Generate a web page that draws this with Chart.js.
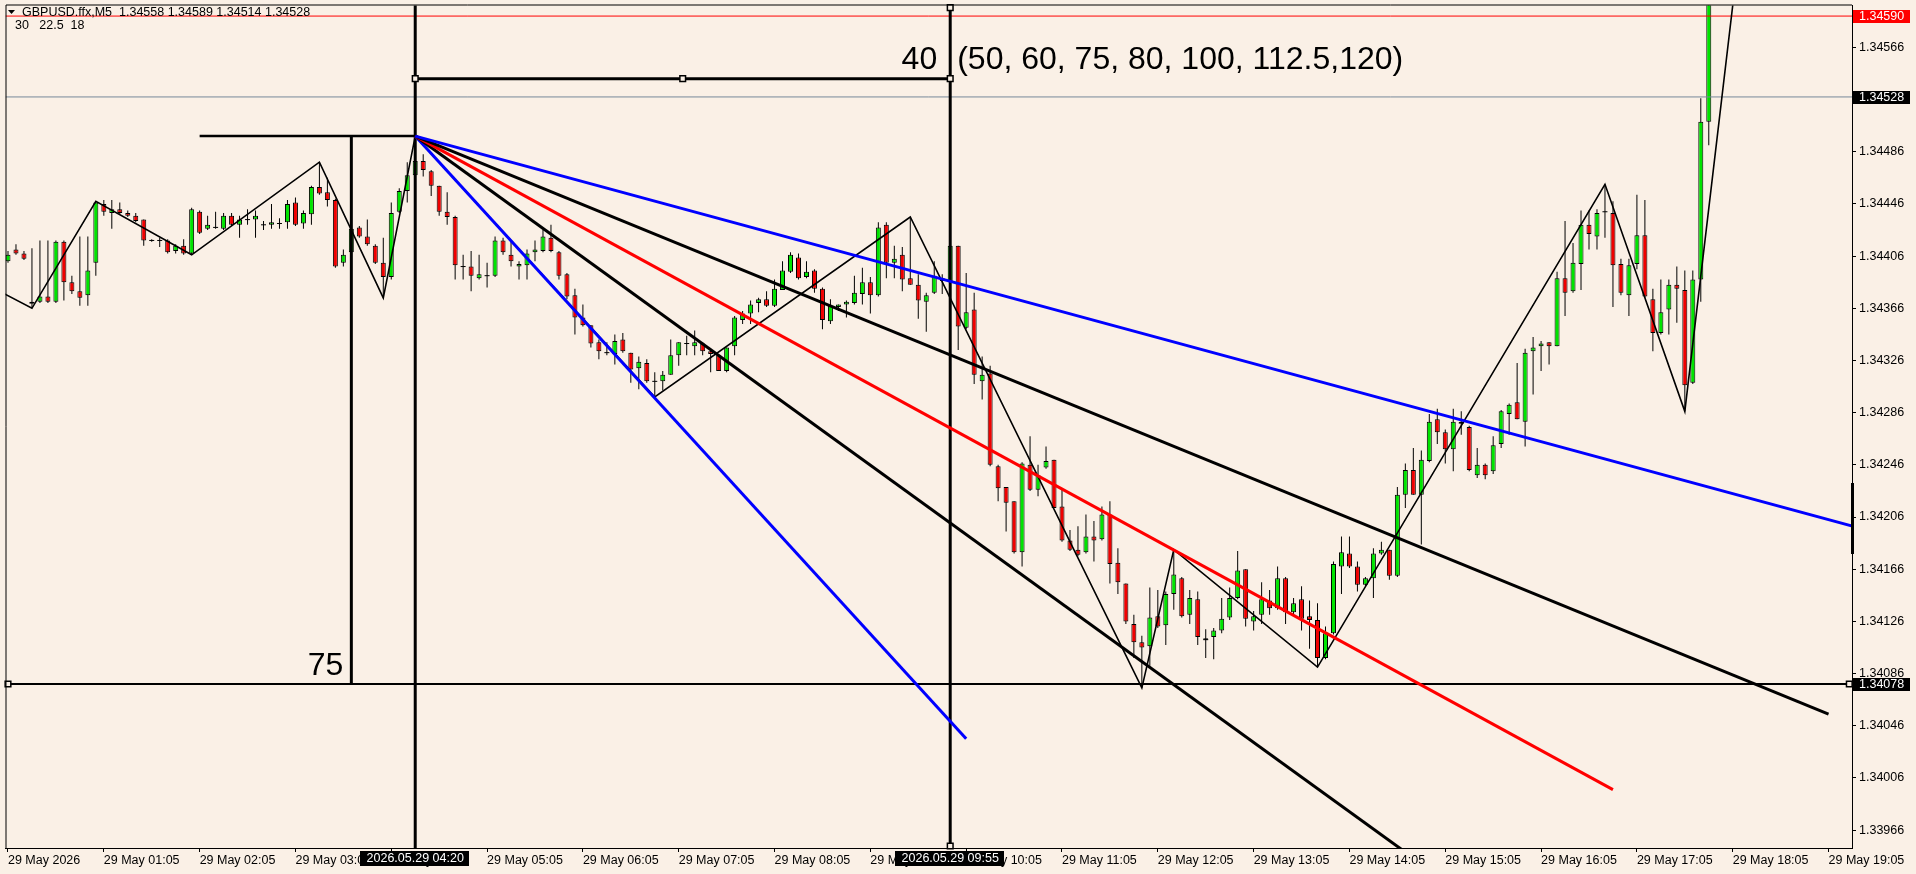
<!DOCTYPE html>
<html>
<head>
<meta charset="utf-8">
<title>GBPUSD.ffx,M5</title>
<script src="https://cdn.jsdelivr.net/npm/chart.js@4"></script>
<style>
  html, body { margin: 0; padding: 0; background: #FAF0E6; overflow: hidden; }
</style>
</head>
<body>
<canvas id="chart" width="1916" height="874"></canvas>
<script>
// GBPUSD M5 bars, bar 0 = 29 May 00:05
const open = [
  1.34402,1.34411,1.34408,1.34371,1.34371,1.34375,1.34371,1.34417,1.34386,1.34379,
  1.34376,1.34401,1.34446,1.34439,1.34442,1.34439,1.34437,1.34434,1.34418,1.34418,
  1.34418,1.34410,1.34414,1.34408,1.34440,1.34427,1.34428,1.34427,1.34437,1.34430,
  1.34434,1.34434,1.34430,1.34430,1.34431,1.34432,1.34447,1.34431,1.34438,1.34459,
  1.34455,1.34449,1.34401,1.34409,1.34428,1.34421,1.34414,1.34401,1.34390,1.34440,
  1.34456,1.34468,1.34479,1.34471,1.34460,1.34440,1.34436,1.34398,1.34398,1.34389,
  1.34391,1.34391,1.34418,1.34407,1.34398,1.34399,1.34409,1.34410,1.34420,1.34409,
  1.34392,1.34376,1.34359,1.34353,1.34340,1.34332,1.34331,1.34342,1.34332,1.34320,
  1.34324,1.34310,1.34310,1.34315,1.34330,1.34339,1.34337,1.34339,1.34333,1.34330,
  1.34318,1.34337,1.34357,1.34362,1.34370,1.34373,1.34368,1.34380,1.34394,1.34405,
  1.34390,1.34395,1.34381,1.34356,1.34367,1.34369,1.34370,1.34377,1.34386,1.34376,
  1.34430,1.34401,1.34407,1.34389,1.34384,1.34371,1.34378,1.34389,1.34387,1.34414,
  1.34351,1.34365,1.34310,1.34316,1.34245,1.34229,1.34218,1.34179,1.34246,1.34227,
  1.34244,1.34250,1.34214,1.34188,1.34181,1.34179,1.34191,1.34189,1.34208,1.34171,
  1.34155,1.34124,1.34110,1.34107,1.34130,1.34123,1.34147,1.34159,1.34131,1.34143,
  1.34113,1.34114,1.34119,1.34129,1.34144,1.34166,1.34126,1.34131,1.34142,1.34136,
  1.34159,1.34133,1.34143,1.34130,1.34127,1.34098,1.34117,1.34168,1.34178,1.34168,
  1.34154,1.34159,1.34178,1.34181,1.34161,1.34223,1.34242,1.34223,1.34249,1.34281,
  1.34271,1.34258,1.34279,1.34275,1.34238,1.34246,1.34241,1.34262,1.34285,1.34294,
  1.34279,1.34333,1.34337,1.34340,1.34337,1.34389,1.34379,1.34400,1.34430,1.34421,
  1.34440,1.34439,1.34400,1.34376,1.34400,1.34422,1.34373,1.34347,1.34365,1.34384,
  1.34380,1.34309,1.34388,1.34509
];
const high = [
  1.34410,1.34415,1.34410,1.34412,1.34418,1.34418,1.34418,1.34418,1.34391,1.34421,
  1.34421,1.34448,1.34449,1.34449,1.34447,1.34441,1.34439,1.34434,1.34419,1.34420,
  1.34419,1.34415,1.34419,1.34443,1.34441,1.34437,1.34440,1.34439,1.34439,1.34437,
  1.34442,1.34441,1.34433,1.34446,1.34435,1.34449,1.34451,1.34441,1.34460,1.34478,
  1.34466,1.34450,1.34411,1.34428,1.34429,1.34434,1.34415,1.34420,1.34447,1.34458,
  1.34478,1.34498,1.34484,1.34472,1.34460,1.34455,1.34437,1.34407,1.34410,1.34407,
  1.34401,1.34421,1.34420,1.34418,1.34402,1.34411,1.34418,1.34426,1.34430,1.34410,
  1.34393,1.34381,1.34369,1.34353,1.34342,1.34340,1.34346,1.34347,1.34332,1.34329,
  1.34327,1.34317,1.34318,1.34342,1.34340,1.34345,1.34349,1.34340,1.34335,1.34331,
  1.34336,1.34360,1.34364,1.34372,1.34374,1.34379,1.34388,1.34402,1.34409,1.34408,
  1.34402,1.34396,1.34382,1.34373,1.34369,1.34372,1.34391,1.34397,1.34390,1.34432,
  1.34432,1.34414,1.34413,1.34436,1.34392,1.34378,1.34402,1.34392,1.34415,1.34414,
  1.34393,1.34378,1.34329,1.34322,1.34246,1.34229,1.34218,1.34248,1.34268,1.34246,
  1.34260,1.34250,1.34227,1.34196,1.34199,1.34208,1.34203,1.34214,1.34218,1.34182,
  1.34155,1.34131,1.34115,1.34152,1.34150,1.34149,1.34181,1.34160,1.34150,1.34149,
  1.34120,1.34121,1.34144,1.34152,1.34180,1.34166,1.34134,1.34156,1.34150,1.34168,
  1.34160,1.34144,1.34153,1.34142,1.34140,1.34122,1.34172,1.34191,1.34191,1.34172,
  1.34160,1.34182,1.34187,1.34181,1.34229,1.34247,1.34259,1.34257,1.34285,1.34289,
  1.34273,1.34289,1.34287,1.34276,1.34259,1.34247,1.34268,1.34288,1.34293,1.34324,
  1.34335,1.34344,1.34341,1.34340,1.34394,1.34433,1.34416,1.34441,1.34441,1.34442,
  1.34461,1.34448,1.34404,1.34404,1.34453,1.34449,1.34381,1.34388,1.34388,1.34398,
  1.34395,1.34395,1.34527,1.34650
];
const low = [
  1.34401,1.34407,1.34403,1.34366,1.34370,1.34370,1.34370,1.34372,1.34377,1.34368,
  1.34368,1.34391,1.34437,1.34427,1.34438,1.34436,1.34432,1.34414,1.34417,1.34413,
  1.34408,1.34408,1.34407,1.34407,1.34423,1.34426,1.34427,1.34426,1.34429,1.34420,
  1.34430,1.34420,1.34426,1.34427,1.34427,1.34427,1.34429,1.34427,1.34430,1.34453,
  1.34444,1.34397,1.34398,1.34408,1.34420,1.34414,1.34400,1.34374,1.34388,1.34439,
  1.34447,1.34467,1.34467,1.34452,1.34437,1.34430,1.34388,1.34388,1.34379,1.34388,
  1.34382,1.34390,1.34407,1.34398,1.34388,1.34388,1.34402,1.34409,1.34409,1.34388,
  1.34373,1.34346,1.34352,1.34336,1.34327,1.34330,1.34323,1.34332,1.34309,1.34304,
  1.34309,1.34298,1.34303,1.34315,1.34322,1.34330,1.34330,1.34330,1.34317,1.34318,
  1.34317,1.34330,1.34354,1.34354,1.34363,1.34367,1.34367,1.34380,1.34393,1.34388,
  1.34389,1.34378,1.34350,1.34354,1.34364,1.34359,1.34369,1.34369,1.34362,1.34375,
  1.34389,1.34389,1.34379,1.34384,1.34358,1.34348,1.34377,1.34377,1.34385,1.34334,
  1.34350,1.34308,1.34296,1.34245,1.34218,1.34195,1.34178,1.34168,1.34226,1.34222,
  1.34243,1.34213,1.34187,1.34180,1.34176,1.34178,1.34172,1.34188,1.34155,1.34147,
  1.34124,1.34098,1.34075,1.34092,1.34121,1.34108,1.34135,1.34129,1.34124,1.34108,
  1.34098,1.34097,1.34117,1.34127,1.34143,1.34122,1.34119,1.34124,1.34131,1.34135,
  1.34124,1.34131,1.34119,1.34105,1.34091,1.34097,1.34116,1.34147,1.34167,1.34149,
  1.34153,1.34144,1.34177,1.34158,1.34160,1.34213,1.34223,1.34185,1.34248,1.34262,
  1.34247,1.34241,1.34269,1.34241,1.34236,1.34235,1.34239,1.34259,1.34269,1.34281,
  1.34260,1.34300,1.34318,1.34323,1.34337,1.34360,1.34378,1.34380,1.34411,1.34411,
  1.34420,1.34367,1.34376,1.34360,1.34396,1.34374,1.34333,1.34346,1.34346,1.34355,
  1.34287,1.34308,1.34371,1.34491
];
const close = [
  1.34407,1.34408,1.34404,1.34370,1.34375,1.34371,1.34417,1.34386,1.34379,1.34374,
  1.34395,1.34447,1.34440,1.34442,1.34439,1.34437,1.34433,1.34418,1.34418,1.34418,
  1.34409,1.34414,1.34408,1.34442,1.34424,1.34430,1.34428,1.34437,1.34430,1.34434,
  1.34434,1.34437,1.34430,1.34432,1.34431,1.34446,1.34430,1.34439,1.34459,1.34454,
  1.34449,1.34398,1.34407,1.34427,1.34421,1.34415,1.34401,1.34390,1.34439,1.34456,
  1.34468,1.34479,1.34472,1.34460,1.34440,1.34436,1.34399,1.34398,1.34391,1.34392,
  1.34391,1.34418,1.34409,1.34402,1.34400,1.34408,1.34411,1.34421,1.34410,1.34391,
  1.34375,1.34359,1.34353,1.34339,1.34333,1.34332,1.34341,1.34333,1.34319,1.34325,
  1.34310,1.34310,1.34315,1.34330,1.34340,1.34339,1.34340,1.34333,1.34331,1.34318,
  1.34336,1.34359,1.34362,1.34369,1.34373,1.34368,1.34381,1.34395,1.34407,1.34389,
  1.34394,1.34381,1.34357,1.34368,1.34369,1.34371,1.34378,1.34386,1.34376,1.34428,
  1.34401,1.34404,1.34388,1.34384,1.34372,1.34376,1.34391,1.34387,1.34414,1.34352,
  1.34363,1.34315,1.34315,1.34246,1.34228,1.34217,1.34179,1.34247,1.34227,1.34238,
  1.34249,1.34213,1.34188,1.34181,1.34177,1.34191,1.34188,1.34208,1.34170,1.34156,
  1.34126,1.34110,1.34106,1.34129,1.34122,1.34147,1.34162,1.34130,1.34144,1.34114,
  1.34112,1.34119,1.34128,1.34144,1.34165,1.34128,1.34130,1.34143,1.34136,1.34159,
  1.34133,1.34140,1.34128,1.34127,1.34098,1.34117,1.34170,1.34179,1.34168,1.34154,
  1.34159,1.34178,1.34181,1.34161,1.34223,1.34242,1.34223,1.34250,1.34279,1.34271,
  1.34258,1.34279,1.34278,1.34242,1.34246,1.34238,1.34261,1.34287,1.34292,1.34281,
  1.34332,1.34336,1.34339,1.34337,1.34389,1.34378,1.34401,1.34430,1.34423,1.34439,
  1.34440,1.34399,1.34378,1.34399,1.34422,1.34375,1.34347,1.34363,1.34384,1.34381,
  1.34307,1.34388,1.34509,1.34640
];

// ZigZag(30, 22.5, 18) turning points: bar index / price
const zzIdx   = [-2, 3, 11, 23, 39, 47, 51, 81, 113, 142, 146, 164, 200, 210, 217];
const zzPrice = [1.34382, 1.34366, 1.34448, 1.34407, 1.34478, 1.34374, 1.34498, 1.34298,
                 1.34436, 1.34075, 1.34181, 1.34091, 1.34461, 1.34287, 1.34650];

// Gann fan from the 04:20 high
const fanFrom  = [51, 1.34498];
const fanEndIdx   = [231, 228, 201, 180, 120];
const fanEndPrice = [1.34199, 1.34055, 1.33997, 1.33927, 1.34036];
const fanColors   = ['#0000FF', '#000000', '#FF0000', '#000000', '#0000FF'];

// price levels
const askPrice = 1.34590;
const bidPrice = 1.34528;
const levelPrice = 1.34078;
const boxTopPrice = 1.34542;

// axes
const timeTicks = [0, 12, 24, 36, 48, 60, 72, 84, 96, 108, 120, 132, 144, 156, 168, 180, 192, 204, 216, 228];
const timeLabels = ['29 May 2026', '29 May 01:05', '29 May 02:05', '29 May 03:05', '29 May 04:05',
  '29 May 05:05', '29 May 06:05', '29 May 07:05', '29 May 08:05', '29 May 09:05', '29 May 10:05',
  '29 May 11:05', '29 May 12:05', '29 May 13:05', '29 May 14:05', '29 May 15:05', '29 May 16:05',
  '29 May 17:05', '29 May 18:05', '29 May 19:05'];
const priceTicks = [1.33966, 1.34006, 1.34046, 1.34086, 1.34126, 1.34166, 1.34206, 1.34246,
  1.34286, 1.34326, 1.34366, 1.34406, 1.34446, 1.34486, 1.34566];
const timeMarks = [[51, '2026.05.29 04:20'], [118, '2026.05.29 09:55']];

const X_MIN = -0.3125, X_MAX = 230.9375;
const Y_MIN = 1.339523, Y_MAX = 1.345981;
const BG = '#FAF0E6';
const FONT = '"Liberation Sans", Arial, sans-serif';

Chart.defaults.font.family = FONT;
Chart.defaults.color = '#000';

const bodies = [], wicks = [], dashes = [], bodyColors = [];
for (let i = 0; i < open.length; i++) {
  wicks.push({x: i, y: [low[i], high[i]]});
  bodies.push({x: i, y: [Math.min(open[i], close[i]), Math.max(open[i], close[i])]});
  bodyColors.push(close[i] >= open[i] ? '#00E400' : '#F00000');
  if (Math.abs(open[i] - close[i]) < 0.000015) dashes.push({x: i, y: close[i]});
}

function seg(points, color, width, order) {
  return {type: 'line', data: points, borderColor: color, borderWidth: width,
    pointRadius: 0, fill: false, tension: 0, order: order};
}

const lines = [];
lines.push(seg([{x: X_MIN, y: askPrice}, {x: X_MAX, y: askPrice}], '#FF0000', 1, 3));
lines.push(seg([{x: X_MIN, y: bidPrice}, {x: X_MAX, y: bidPrice}], '#778899', 1, 3));
lines.push(seg(zzIdx.map((v, k) => ({x: v, y: zzPrice[k]})), '#000000', 1.6, 2));
fanEndIdx.forEach((v, k) => {
  lines.push(seg([{x: fanFrom[0], y: fanFrom[1]}, {x: v, y: fanEndPrice[k]}], fanColors[k], 3, 1));
});
lines.push(seg([{x: X_MIN, y: levelPrice}, {x: X_MAX, y: levelPrice}], '#000000', 2, 1));
lines.push(seg([{x: 24, y: fanFrom[1]}, {x: 51, y: fanFrom[1]}], '#000000', 2.5, 1));
lines.push(seg([{x: 43, y: fanFrom[1]}, {x: 43, y: levelPrice}], '#000000', 3, 1));
lines.push(seg([{x: 51, y: Y_MAX + 0.0001}, {x: 51, y: Y_MIN - 0.0001}], '#000000', 3, 1));
lines.push(seg([{x: 118, y: Y_MAX + 0.0001}, {x: 118, y: Y_MIN - 0.0001}], '#000000', 3, 1));
lines.push(seg([{x: 51, y: boxTopPrice}, {x: 118, y: boxTopPrice}], '#000000', 3, 1));

const squares = {
  type: 'scatter',
  data: [{x: 0, y: levelPrice}, {x: 230.6, y: levelPrice}, {x: 51, y: boxTopPrice},
         {x: 84.5, y: boxTopPrice}, {x: 118, y: boxTopPrice},
         {x: 118, y: 1.345965}, {x: 118, y: 1.339538}],
  pointStyle: 'rect', pointRadius: 4, borderColor: '#000', borderWidth: 1.5,
  backgroundColor: BG, clip: false, order: 0
};

const mt4Overlay = {
  id: 'mt4Overlay',
  beforeDraw(chart) {
    const ctx = chart.ctx;
    ctx.save();
    ctx.fillStyle = BG;
    ctx.fillRect(0, 0, chart.width, chart.height);
    ctx.restore();
  },
  afterDatasetsDraw(chart) {
    const {ctx, scales: {x, y}} = chart;
    ctx.save();
    ctx.fillStyle = '#000';
    ctx.font = '32px ' + FONT;
    ctx.textBaseline = 'alphabetic';
    const gx = x.getPixelForValue(118), gy = y.getPixelForValue(boxTopPrice) - 10;
    ctx.textAlign = 'right';
    ctx.fillText('40', gx - 13, gy);
    ctx.textAlign = 'left';
    ctx.fillText('(50, 60, 75, 80, 100, 112.5,120)', gx + 7, gy);
    ctx.textAlign = 'right';
    ctx.fillText('75', x.getPixelForValue(43) - 8, y.getPixelForValue(levelPrice) - 9);
    ctx.restore();
  },
  afterDraw(chart) {
    const {ctx, chartArea: a, scales: {x, y}} = chart;
    ctx.save();
    // frame
    ctx.strokeStyle = '#000';
    ctx.lineWidth = 1;
    ctx.beginPath();
    ctx.moveTo(a.left + 0.5, a.bottom);
    ctx.lineTo(a.left + 0.5, a.top - 0.5);
    ctx.lineTo(a.right, a.top - 0.5);
    ctx.stroke();
    ctx.fillStyle = '#000';
    ctx.fillRect(a.right - 1, 483, 3, 71);

    // header
    ctx.font = '12.5px ' + FONT;
    ctx.textBaseline = 'middle';
    ctx.textAlign = 'left';
    ctx.beginPath();
    ctx.moveTo(8, 10); ctx.lineTo(15, 10); ctx.lineTo(11.5, 14); ctx.closePath();
    ctx.fill();
    ctx.fillText('GBPUSD.ffx,M5  1.34558 1.34589 1.34514 1.34528', 22, 13);
    ctx.fillText('30   22.5  18', 15, 25.5);

    // price boxes on the axis
    [[askPrice, '#FF0000'], [bidPrice, '#000000'], [levelPrice, '#000000']].forEach(([p, c]) => {
      const py = y.getPixelForValue(p);
      ctx.fillStyle = c;
      ctx.fillRect(a.right + 1, Math.round(py) - 6, 57, 13);
      ctx.fillStyle = '#FFF';
      ctx.fillText(p.toFixed(5), a.right + 7, py + 0.5);
    });

    // time boxes on the axis
    ctx.textAlign = 'center';
    timeMarks.forEach(([i, t]) => {
      const px = x.getPixelForValue(i);
      ctx.fillStyle = '#000';
      ctx.fillRect(Math.round(px) - 55, a.bottom + 3, 109, 15);
      ctx.fillStyle = '#FFF';
      ctx.fillText(t, px, a.bottom + 11);
    });
    ctx.restore();
  }
};

new Chart(document.getElementById('chart'), {
  type: 'bar',
  data: {
    datasets: [
      {data: wicks, backgroundColor: '#000', borderWidth: 0, barThickness: 1,
       grouped: false, inflateAmount: 0, clip: 0, order: 6},
      {data: bodies, backgroundColor: bodyColors, borderColor: '#000', borderWidth: 1,
       borderSkipped: false, barThickness: 5, grouped: false, inflateAmount: 0, clip: 0, order: 5},
      {type: 'scatter', data: dashes, pointStyle: 'line', pointRadius: 2.5,
       borderColor: '#000', borderWidth: 1, order: 4},
      ...lines,
      squares
    ]
  },
  options: {
    responsive: false,
    devicePixelRatio: 1,
    animation: false,
    events: [],
    layout: {padding: {top: 2, left: 2, right: 0, bottom: 0}},
    plugins: {legend: {display: false}, tooltip: {enabled: false}},
    scales: {
      x: {
        type: 'linear', min: X_MIN, max: X_MAX, offset: false,
        grid: {drawOnChartArea: false, drawTicks: true, tickLength: 4, color: '#000', offset: false},
        border: {display: true, color: '#000'},
        ticks: {align: 'start', autoSkip: false, maxRotation: 0, minRotation: 0, padding: 1,
          font: {size: 12.5}, callback: v => timeLabels[timeTicks.indexOf(v)]},
        afterBuildTicks: s => { s.ticks = timeTicks.map(v => ({value: v})); },
        afterFit: s => { s.height = 26; s.paddingLeft = 0; s.paddingRight = 0; }
      },
      y: {
        type: 'linear', position: 'right', min: Y_MIN, max: Y_MAX, beginAtZero: false,
        grid: {drawOnChartArea: false, drawTicks: true, tickLength: 4, color: '#000'},
        border: {display: true, color: '#000'},
        ticks: {autoSkip: false, padding: 3, font: {size: 12.5}, callback: v => v.toFixed(5)},
        afterBuildTicks: s => { s.ticks = priceTicks.map(v => ({value: v})); },
        afterFit: s => { s.width = 64; s.paddingTop = 0; s.paddingBottom = 0; }
      }
    }
  },
  plugins: [mt4Overlay]
});
</script>
</body>
</html>
